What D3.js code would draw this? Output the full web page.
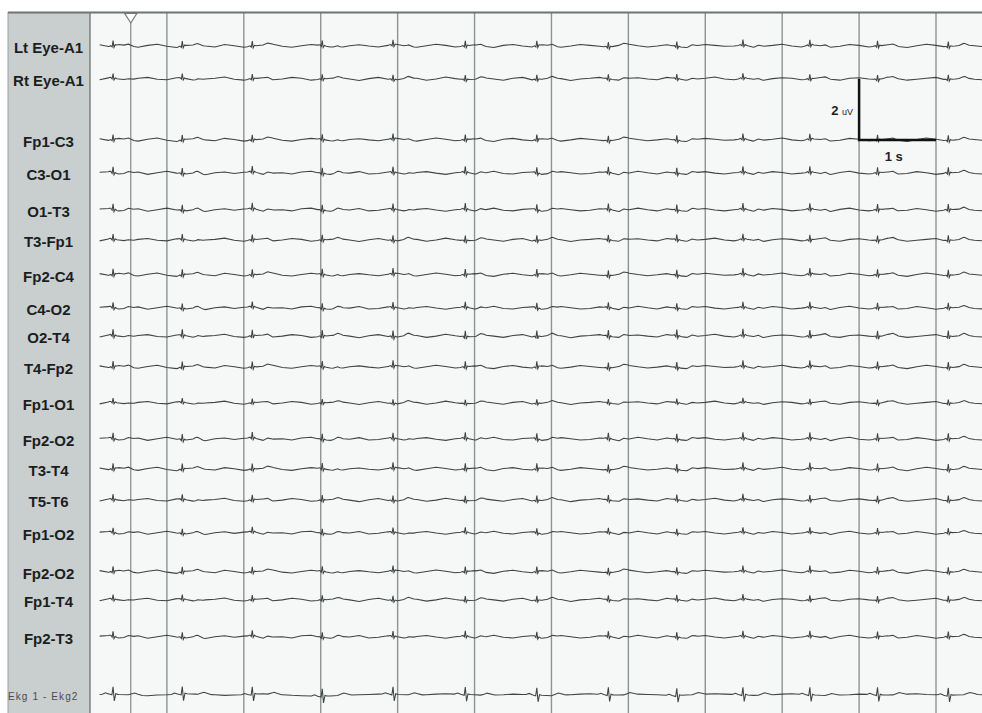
<!DOCTYPE html>
<html>
<head>
<meta charset="utf-8">
<script src="https://cdn.jsdelivr.net/npm/d3@7"></script>
<style>
  body { margin: 0; background: #fff; }
</style>
</head>
<body>
<div id="eeg"></div>
<script>
// ---- data -----------------------------------------------------------
// channel labels, top to bottom
var channels = ["Lt Eye-A1", "Rt Eye-A1", "Fp1-C3", "C3-O1", "O1-T3", "T3-Fp1", "Fp2-C4",
  "C4-O2", "O2-T4", "T4-Fp2", "Fp1-O1", "Fp2-O2", "T3-T4", "T5-T6", "Fp1-O2", "Fp2-O2",
  "Fp1-T4", "Fp2-T3", "Ekg 1 - Ekg2"];
// row slot of each channel (one slot = one channel height)
var channelSlot = [0, 1.01, 2.88, 3.9, 5.03, 5.95, 7.02, 8.04, 8.9, 9.85, 10.95, 12.06,
  12.98, 13.93, 14.94, 16.13, 16.99, 18.13, 19.9];
// background activity each channel follows
var channelWave = ["a", "b", "a", "c", "c", "b", "a", "c", "b", "a", "b", "c", "a", "b", "c", "a", "b", "c", "ekg"];
// size of the heart-beat artifact in each channel
var spikeGain = [1, 0.9, 1, 1.1, 1.1, 1, 1.1, 1, 1.2, 1.1, 0.8, 1.1, 1.1, 1, 0.9, 1, 0.9, 1, 1];
// heart beats, seconds from the left edge
var beatTimes = [0.30, 1.20, 2.11, 3.02, 3.94, 4.88, 5.81, 6.74, 7.63, 8.49, 9.36, 10.24, 11.16];
// artifact shape: [seconds from beat, 0.01 uV]
var eegBeat = [[-0.06, 0], [-0.03, 2], [-0.012, -3], [0, 17], [0.012, -6], [0.028, 2], [0.05, 0],
  [0.14, 0], [0.2, 5], [0.27, 0]];
var ekgBeat = [[-0.14, 0], [-0.1, 4], [-0.06, 0], [-0.015, -3], [0, 24], [0.016, -22], [0.035, 2],
  [0.06, 0], [0.2, 0], [0.28, 7], [0.38, 0]];
// background activity, 0.01 uV every 0.125 s
var waveStep = 0.125;
var waves = {
  a: [0, 4, -2, 5, 1, -4, 2, 6, -1, -5, 2, 4, 0, -3, 5, 1, -4, 0, 3, 6, -1, -4, 1, 5, 2, -3, -5, 1, 4, 0,
    -3, 2, 5, -1, -4, 1, 6, 2, -3, 0, 4, -1, -5, 2, 5, 0, -3, 4, 1, -4, 0, 5, 2, -1, -4, 2, 6, 1, -3, 0,
    4, -2, -5, 1, 5, 2, -1, 0, 4, -4, -1, 2, 6, 0, -3, 4, 1, -4, -1, 5, 2, -3, 0, 4, -1, -5, 1, 6, 2, -3,
    0, 4, 1, -2],
  b: [1, -3, 4, 0, -4, 2, 5, -1, -3, 4, 1, -5, 0, 2, 6, -1, -4, 1, 4, -3, 0, 5, 2, -4, -1, 2, 4, 0, -5, 1,
    5, -1, -3, 4, 2, -4, 0, 6, 1, -3, -1, 4, 0, -4, 2, 5, -3, -1, 4, 1, -5, 0, 2, 5, -1, -4, 2, 4, 0, -3,
    5, 1, -4, -1, 2, 6, 0, -3, 4, -1, -5, 1, 4, 2, -3, 0, 5, -1, -4, 2, 4, 0, -3, 6, 1, -4, -1, 2, 5, -3,
    0, 4, -1, -3],
  c: [-1, 3, 5, -3, 0, 4, -4, 1, 6, 0, -3, 2, -5, 1, 4, -1, 3, 5, -4, 0, 1, -3, 4, 6, -1, -4, 2, 0, 5, -3,
    -1, 4, 1, -5, 2, 5, 0, -4, 1, 4, -3, 0, 6, -1, -3, 2, 4, -4, 0, 5, 1, -3, -1, 4, 2, -5, 0, 6, 1, -3,
    4, -1, -4, 2, 5, 0, -3, 1, 4, -4, -1, 5, 2, -3, 0, 4, -1, -5, 2, 6, 0, -3, 1, 4, -3, -1, 5, 1, -4, 0,
    2, 4, -1, -3],
  ekg: [0, 1, 3, 1, 0, -2, -3, -1, 0, 2, 3, 2, 1, 0, -2, -1, 0, 2, 3, 1, 0, -2, -3, -4, -5, -4, -2, -1, 0, 1,
    2, 3, 1, 0, -1, 0, 2, 3, 2, 1, 0, -2, -1, 0, 2, 1, 0, -2, -3, -1, 0, 2, 3, 1, 0, -1, 0, 2, 1, 0,
    -2, -3, -1, 0, 2, 3, 2, 1, 0, -2, -1, 0, 2, 3, 1, 0, -2, -3, -1, 0, 2, 1, 0, -1, 0, 2, 3, 1, 0, -2,
    -1, 0, 1, 0]
};
// one vertical line per second
var gridSeconds = [1, 2, 3, 4, 5, 6, 7, 8, 9, 10, 11];
var markerTime = 0.53;
// calibration bar: 2 uV by 1 s, drawn on the Fp1-C3 row
var calChannel = 2, calStart = 10, calSeconds = 1, calMicroVolts = 200;

// ---- layout ---------------------------------------------------------
var W = 982, H = 713;
var panelLeft = 8, plotLeft = 90, plotTop = 12;

var svg = d3.select("#eeg").append("svg")
    .attr("width", W)
    .attr("height", H);

var x = d3.scaleLinear().domain([0, 11]).range([plotLeft, 936]);
var slot = d3.scaleLinear().domain([0, 1]).range([46, 78.6]);
var amp = d3.scaleLinear().domain([0, 200]).range([0, -61]);
var tEnd = x.invert(W);

svg.append("rect").attr("width", W).attr("height", H).attr("fill", "#fff");
svg.append("rect")
    .attr("x", plotLeft).attr("y", plotTop)
    .attr("width", W - plotLeft).attr("height", H - plotTop)
    .attr("fill", "#f6f7f7");
svg.append("rect")
    .attr("x", panelLeft).attr("y", plotTop)
    .attr("width", plotLeft - panelLeft).attr("height", H - plotTop)
    .attr("fill", "#c9cece");

// grid
svg.append("g").selectAll("line")
    .data(gridSeconds)
  .enter().append("line")
    .attr("x1", function(d) { return x(d); })
    .attr("x2", function(d) { return x(d); })
    .attr("y1", plotTop).attr("y2", H)
    .attr("stroke", "#8e9393")
    .attr("stroke-width", 1.4);

svg.append("line")
    .attr("x1", plotLeft).attr("x2", plotLeft)
    .attr("y1", plotTop).attr("y2", H)
    .attr("stroke", "#7d8282").attr("stroke-width", 1.5);
svg.append("line")
    .attr("x1", panelLeft).attr("x2", panelLeft)
    .attr("y1", plotTop).attr("y2", H)
    .attr("stroke", "#9aa0a0").attr("stroke-width", 1);

// marker
svg.append("line")
    .attr("x1", x(markerTime)).attr("x2", x(markerTime))
    .attr("y1", plotTop).attr("y2", H)
    .attr("stroke", "#8e9393").attr("stroke-width", 1.3);

svg.append("line")
    .attr("x1", panelLeft).attr("x2", W)
    .attr("y1", plotTop + 0.5).attr("y2", plotTop + 0.5)
    .attr("stroke", "#6f7575").attr("stroke-width", 2);

var mx = x(markerTime);
svg.append("path")
    .attr("d", "M" + (mx - 6) + "," + (plotTop + 1.5) + "L" + (mx + 6) + "," + (plotTop + 1.5) +
               "L" + mx + "," + (plotTop + 11) + "Z")
    .attr("fill", "#fff").attr("stroke", "#777").attr("stroke-width", 1.2);

// traces
function waveValue(arr, t) {
  var i = t / waveStep, i0 = Math.floor(i), f = i - i0;
  var a = arr[Math.min(i0, arr.length - 1)], b = arr[Math.min(i0 + 1, arr.length - 1)];
  return a + (b - a) * f;
}

function beatValue(tpl, t) {
  var v = 0;
  beatTimes.forEach(function(b) {
    var dt = t - b;
    for (var k = 0; k < tpl.length - 1; k++) {
      if (dt >= tpl[k][0] && dt <= tpl[k + 1][0]) {
        var f = (dt - tpl[k][0]) / (tpl[k + 1][0] - tpl[k][0]);
        v += tpl[k][1] + (tpl[k + 1][1] - tpl[k][1]) * f;
        break;
      }
    }
  });
  return v;
}

function tracePoints(i) {
  var arr = waves[channelWave[i]];
  var tpl = channelWave[i] === "ekg" ? ekgBeat : eegBeat;
  var times = arr.map(function(d, k) { return k * waveStep; });
  beatTimes.forEach(function(b) {
    tpl.forEach(function(p) { times.push(b + p[0]); });
  });
  times.push(tEnd);
  times = times.filter(function(t) { return t >= 0.02 && t <= tEnd; }).sort(d3.ascending);
  return times.map(function(t) {
    return [t, waveValue(arr, t) + spikeGain[i] * beatValue(tpl, t)];
  });
}

var traces = svg.append("g");
channels.forEach(function(name, i) {
  var y0 = slot(channelSlot[i]);
  var line = d3.line()
      .x(function(d) { return x(d[0]); })
      .y(function(d) { return y0 + amp(d[1]); });
  traces.append("path")
      .attr("d", line(tracePoints(i)))
      .attr("fill", "none")
      .attr("stroke", "#3f4343")
      .attr("stroke-width", 1.05);
});

// labels
var labels = svg.append("g");
channels.forEach(function(name, i) {
  var y0 = slot(channelSlot[i]);
  var ekg = channelWave[i] === "ekg";
  labels.append("text")
      .attr("x", ekg ? panelLeft : 48.5)
      .attr("y", y0 + 2)
      .attr("dy", "0.35em")
      .attr("text-anchor", ekg ? "start" : "middle")
      .style("font-family", "'Liberation Sans', Arial, sans-serif")
      .style("font-size", ekg ? "10px" : "15px")
      .style("font-weight", ekg ? "normal" : "bold")
      .style("letter-spacing", ekg ? "1.1px" : "0px")
      .style("fill", ekg ? "#4a4d4d" : "#1c1e1e")
      .text(name);
});

// calibration bar
var cy = slot(channelSlot[calChannel]);
svg.append("path")
    .attr("d", "M" + x(calStart) + "," + (cy + amp(calMicroVolts)) +
               "L" + x(calStart) + "," + cy +
               "L" + x(calStart + calSeconds) + "," + cy)
    .attr("fill", "none")
    .attr("stroke", "#111")
    .attr("stroke-width", 2.5);

var calText = svg.append("text")
    .attr("x", x(calStart) - 6)
    .attr("y", cy + amp(calMicroVolts / 2) + 6)
    .attr("text-anchor", "end")
    .style("font-family", "'Liberation Sans', Arial, sans-serif")
    .style("fill", "#222");
calText.append("tspan").style("font-size", "13px").style("font-weight", "bold").text("2 ");
calText.append("tspan").style("font-size", "9px").text("uV");

svg.append("text")
    .attr("x", x(calStart + calSeconds * 0.45))
    .attr("y", cy + 21)
    .attr("text-anchor", "middle")
    .style("font-family", "'Liberation Sans', Arial, sans-serif")
    .style("font-size", "13px")
    .style("font-weight", "bold")
    .style("fill", "#222")
    .text("1 s");
</script>
</body>
</html>
